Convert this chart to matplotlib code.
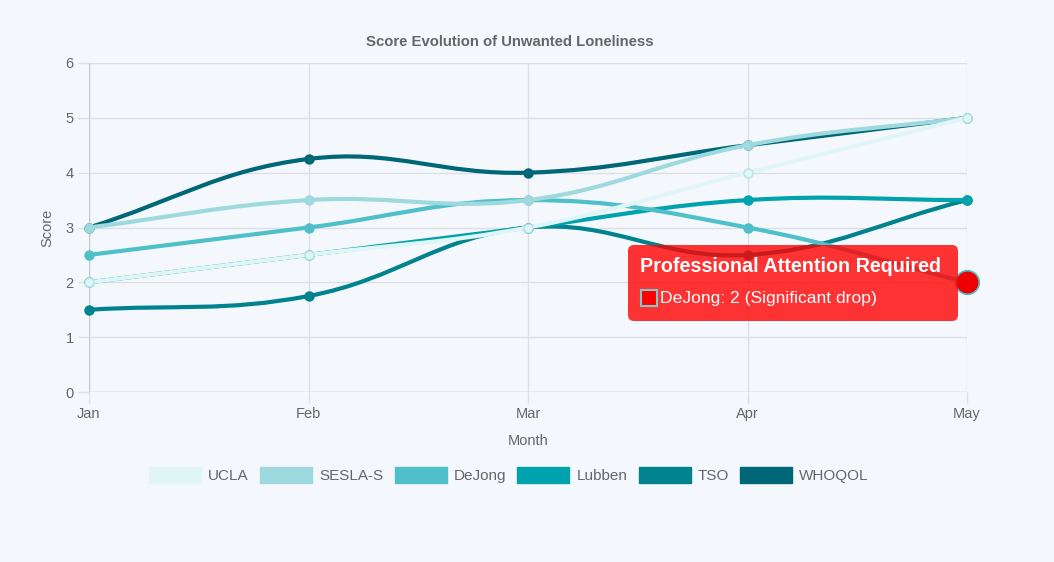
import matplotlib
matplotlib.use("Agg")
from matplotlib import pyplot as plt
from matplotlib.path import Path
from matplotlib.patches import PathPatch, Patch, FancyBboxPatch, Rectangle
from matplotlib.transforms import IdentityTransform
import numpy as np

# data
months = ['Jan', 'Feb', 'Mar', 'Apr', 'May']
ucla = [2, 2.5, 3, 4, 5]
sesla = [3, 3.5, 3.5, 4.5, 5]
dejong = [2.5, 3, 3.5, 3, 2]
lubben = [2, 2.5, 3, 3.5, 3.5]
tso = [1.5, 1.75, 3, 2.5, 3.5]
whoqol = [3, 4.25, 4, 4.5, 5]

names = ['UCLA', 'SESLA-S', 'DeJong', 'Lubben', 'TSO', 'WHOQOL']
series = [ucla, sesla, dejong, lubben, tso, whoqol]
colors = ['#e0f5f5', '#9fd9e0', '#4fbfc9', '#00a3ad', '#00838f', '#006778']

BG = '#f4f8fc'
GRID = '#dcdfe5'
TXT = '#666666'

plt.rcParams['font.family'] = ['Liberation Sans', 'DejaVu Sans']

W, H = 1054, 562
fig = plt.figure(figsize=(W / 100, H / 100), dpi=100, facecolor=BG)
ax = fig.add_axes([89 / W, 1 - 392 / H, (967 - 89) / W, (392 - 63) / H])
ax.set_facecolor(BG)
ax.set_xlim(0, 4)
ax.set_ylim(0, 6)
ax.set_xticks(range(5))
ax.set_xticklabels(months)
ax.set_yticks(range(7))
ax.grid(True, color=GRID, lw=1)
ax.set_axisbelow(True)
for s in ax.spines.values():
    s.set_visible(False)
ax.axvline(0, color='#c8ccd2', lw=1, zorder=1)
ax.axhline(0, color='#c8ccd2', lw=1, zorder=1)
ax.tick_params(colors=GRID, labelcolor=TXT, labelsize=10.5, length=8, width=1, pad=3)
ax.set_xlabel('Month', color=TXT, fontsize=10.5, labelpad=9)
ax.set_ylabel('Score', color=TXT, fontsize=10.5, labelpad=8)
fig.text(0.5 * (365 + 655) / W, 1 - 42 / H, 'Score Evolution of Unwanted Loneliness',
         ha='center', va='center', fontsize=10.7, fontweight='bold', color=TXT)


def spline_path(xs, ys, t=0.4):
    # chart.js style bezier control points, computed in pixel space
    pts = ax.transData.transform(np.column_stack([xs, ys]))
    n = len(pts)
    cps = []
    for i in range(n):
        prev = pts[max(i - 1, 0)]
        cur = pts[i]
        nxt = pts[min(i + 1, n - 1)]
        d01 = np.hypot(*(cur - prev))
        d12 = np.hypot(*(nxt - cur))
        tot = d01 + d12
        s01 = d01 / tot if tot else 0
        s12 = d12 / tot if tot else 0
        cps.append((cur - t * s01 * (nxt - prev), cur + t * s12 * (nxt - prev)))
    verts = [pts[0]]
    codes = [Path.MOVETO]
    for i in range(n - 1):
        verts += [cps[i][1], cps[i + 1][0], pts[i + 1]]
        codes += [Path.CURVE4] * 3
    verts = ax.transData.inverted().transform(np.array(verts))
    return Path(verts, codes)


x = np.arange(len(months))
for i, (name, vals, c) in enumerate(zip(names, series, colors)):
    z = 10 - i
    ax.add_patch(PathPatch(spline_path(x, vals), fill=False, edgecolor=c, lw=3, zorder=z,
                           capstyle='round', joinstyle='round'))
    edge = '#b5e3e8' if name == 'UCLA' else c
    ax.plot(x, vals, 'o', ms=6.5, mfc=c, mec=edge, mew=1, zorder=z, clip_on=False)

# highlighted point
ax.plot([4], [dejong[4]], 'o', ms=17, mfc='#ee0000', mec='#4fbfc9', mew=1.2, zorder=30, clip_on=False)

# tooltip
tip = FancyBboxPatch((628, H - 321), 330, 76, boxstyle='round,pad=0,rounding_size=6',
                     transform=IdentityTransform(), facecolor=(1, 0, 0, 0.8), edgecolor='none',
                     zorder=40)
fig.patches.append(tip)
fig.text(640 / W, 1 - 267 / H, 'Professional Attention Required', ha='left', va='center',
         fontsize=14.2, fontweight='bold', color='white', zorder=41)
fig.patches.append(Rectangle((641, H - 306), 16, 16, transform=IdentityTransform(),
                             facecolor='#ff0000', edgecolor='#7fc8d0', lw=1.5, zorder=41))
fig.text(660 / W, 1 - 298 / H, 'DeJong: 2 (Significant drop)', ha='left', va='center',
         fontsize=12.6, color='white', zorder=41)

# legend
handles = [Patch(facecolor=c, edgecolor=c, label=n) for n, c in zip(names, colors)]
fig.legend(handles=handles, loc='center', bbox_to_anchor=(0.5 * (152 + 866) / W, 1 - 475 / H),
           ncol=6, frameon=False, fontsize=11, labelcolor=TXT, handlelength=3.4,
           handleheight=1.2, handletextpad=0.45, columnspacing=0.75)

fig.savefig('out.png', dpi=100, facecolor=BG)
